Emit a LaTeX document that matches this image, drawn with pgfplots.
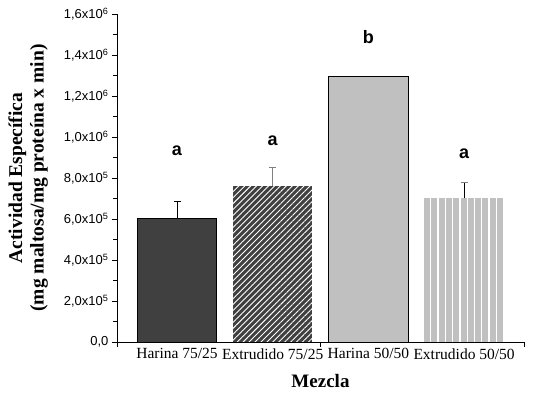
\documentclass[border=0pt]{standalone}
\usepackage{pgfplots}
\pgfplotsset{compat=1.18}
\usepackage{fontspec}
\setmainfont{Liberation Serif}
\newfontfamily\arial{Liberation Sans}
\usetikzlibrary{patterns.meta}
\definecolor{dg}{HTML}{404040}
\definecolor{lg}{HTML}{C0C0C0}
\begin{document}
\begin{tikzpicture}
\path[use as bounding box] (-117pt,-59pt) rectangle (416pt,342pt);
\begin{axis}[
  at={(0pt,0pt)}, anchor=south west,
  scale only axis, width=407pt, height=328pt,
  axis lines=left, axis line style={-, line width=0.8pt},
  xmin=0.373, xmax=4.626, ymin=0, ymax=1.6e6,
  xtick={0.373,2.5,4.626}, xticklabels={},
  extra x ticks={1,2,3,4},
  extra x tick labels={Harina 75/25,Extrudido 75/25,Harina 50/50,Extrudido 50/50},
  extra x tick style={major tick length=0pt, tick label style={font=\fontsize{15.5}{17}\selectfont, yshift=-3pt}},
  ytick={0,200000,400000,600000,800000,1000000,1200000,1400000,1600000},
  yticklabels={{0,0},{2,0x10\textsuperscript{5}},{4,0x10\textsuperscript{5}},{6,0x10\textsuperscript{5}},{8,0x10\textsuperscript{5}},{1,0x10\textsuperscript{6}},{1,2x10\textsuperscript{6}},{1,4x10\textsuperscript{6}},{1,6x10\textsuperscript{6}}},
  minor y tick num=1,
  scaled y ticks=false,
  tick align=outside, major tick length=5pt, minor tick length=4pt,
  tick style={black, line width=0.8pt},
  yticklabel style={font=\arial\fontsize{13}{15}\selectfont},
  /pgf/number format/assume math mode=true,
  xlabel={\textbf{Mezcla}},
  xlabel style={font=\fontsize{19}{21}\selectfont, yshift=-3pt},
  ylabel={\textbf{Actividad Específica}\\\textbf{(mg maltosa/mg proteína x min)}},
  ylabel style={font=\fontsize{19.5}{21.5}\selectfont, align=center, yshift=9pt},
  every axis plot/.append style={ybar, bar width=0.83, bar shift=0pt},
  clip=false,
]
\addplot[fill=dg, draw=black, line width=0.8pt,
  error bars/.cd, y dir=plus, y explicit,
  error bar style={black, line width=0.8pt},
  error mark options={rotate=90, mark size=3.5pt, line width=0.8pt, black}]
  coordinates {(1,605000) +- (0,81000)};
\addplot[fill=dg, draw=none,
  postaction={pattern={Lines[angle=45, distance=4.2pt, line width=0.9pt]}, pattern color=white},
  error bars/.cd, y dir=plus, y explicit,
  error bar style={gray, line width=0.9pt},
  error mark options={rotate=90, mark size=3.5pt, line width=0.8pt, gray}]
  coordinates {(2,761000) +- (0,91000)};
\addplot[fill=lg, draw=black, line width=0.8pt]
  coordinates {(3,1294000)};
\addplot[fill=lg, draw=none,
  postaction={pattern={Lines[angle=90, distance=7.3pt, line width=1.3pt]}, pattern color=white},
  error bars/.cd, y dir=plus, y explicit,
  error bar style={black, line width=0.8pt},
  error mark options={rotate=90, mark size=3.5pt, line width=0.8pt, gray}]
  coordinates {(4,701000) +- (0,79000)};
\node[font=\arial\bfseries\fontsize{18}{20}\selectfont] at (axis cs:1,932000) {a};
\node[font=\arial\bfseries\fontsize{18}{20}\selectfont] at (axis cs:2,980000) {a};
\node[font=\arial\bfseries\fontsize{18}{20}\selectfont] at (axis cs:3,1486000) {b};
\node[font=\arial\bfseries\fontsize{18}{20}\selectfont] at (axis cs:4,917000) {a};
\end{axis}
\end{tikzpicture}
\end{document}
